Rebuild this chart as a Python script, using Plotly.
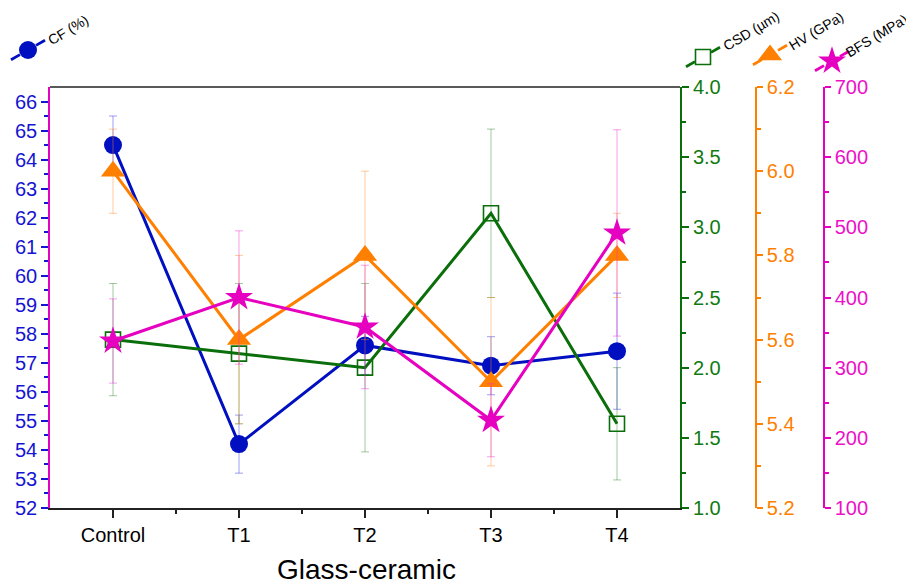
import plotly.graph_objects as go

categories = ["Control", "T1", "T2", "T3", "T4"]
cf = [64.5, 54.2, 57.6, 56.9, 57.4]
cf_err = [1.0, 1.0, 1.0, 1.0, 2.0]
csd = [2.2, 2.1, 2.0, 3.1, 1.6]
csd_err = [0.4, 0.5, 0.6, 0.6, 0.4]
hv = [6.0, 5.6, 5.8, 5.5, 5.8]
hv_err = [0.1, 0.2, 0.2, 0.2, 0.1]
bfs = [338, 400, 358, 225, 492]
bfs_err = [60, 95, 88, 52, 147]

names = ["CF (%)", "CSD (µm)", "HV (GPa)", "BFS (MPa)"]

BLUE = "#0010c0"
BLUE_T = "#1414d2"
GREEN = "#0a6e0a"
GREEN_T = "#107a10"
ORANGE = "#ff7f00"
MAGENTA = "#e600c0"
MAGENTA_T = "#ec10c8"

FONT = "Arial, Liberation Sans, Helvetica, sans-serif"
W, H = 914, 585
OFF = 8  # page body margin in the browser window
PL, PR, PT, PB = 50, 680, 87, 508   # plot area in window pixels


def px(xp, yp):
    """window pixel -> figure paper coordinates"""
    return (xp - OFF) / W, 1 - (yp - OFF) / H


xs = list(range(len(categories)))

fig = go.Figure()


def add_series(y, err, yaxis, color, errcolor, symbol, size, name, mline=0):
    fig.add_trace(go.Scatter(
        x=xs, y=y, yaxis=yaxis, name=name, mode="lines+markers",
        line=dict(color=color, width=3),
        marker=dict(symbol=symbol, size=size, color=color,
                    line=dict(color=color, width=mline)),
        error_y=dict(type="data", array=err, visible=True, color=errcolor,
                     thickness=1, width=4),
        cliponaxis=False, showlegend=False))


add_series(cf, cf_err, "y", BLUE, "rgba(40,40,230,0.45)", "circle", 18, names[0])
add_series(csd, csd_err, "y2", GREEN, "rgba(20,120,20,0.4)", "square-open", 15, names[1], mline=1.6)
add_series(hv, hv_err, "y3", ORANGE, "rgba(255,140,40,0.45)", "triangle-up", 21, names[2])
add_series(bfs, bfs_err, "y4", MAGENTA, "rgba(240,40,220,0.45)", "star", 21, names[3])

# legend glyphs drawn on a hidden full-figure overlay axis (window pixel units)
leg = [
    (28, 50, BLUE, "circle", 18, 0, names[0], (68, 30)),
    (703, 57, GREEN, "square-open", 15, 1.6, names[1], (751, 31)),
    (770, 55, ORANGE, "triangle-up", 21, 0, names[2], (816, 31)),
    (832, 61, MAGENTA, "star", 21, 0, names[3], (876, 36)),
]
for (mx, my, col, sym, sz, ml, nm, tc) in leg:
    for s in (-1, 1):
        x0, y0 = mx + s * 8, my - s * 4.6
        x1, y1 = mx + s * 17, my - s * 9.8
        a0 = px(x0, y0)
        a1 = px(x1, y1)
        fig.add_shape(type="line", xref="paper", yref="paper",
                      x0=a0[0], y0=a0[1], x1=a1[0], y1=a1[1],
                      line=dict(color=col, width=2.8))
    fig.add_trace(go.Scatter(x=[mx], y=[my], xaxis="x2", yaxis="y5", mode="markers",
                             marker=dict(symbol=sym, size=sz, color=col,
                                         line=dict(color=col, width=ml)),
                             showlegend=False, hoverinfo="skip"))
    tx, ty = px(*tc)
    fig.add_annotation(x=tx, y=ty, xref="paper", yref="paper", text=nm,
                       showarrow=False, textangle=-31, xanchor="center", yanchor="middle",
                       font=dict(family=FONT, size=14, color="black"))

# top border
a0 = px(PL, PT)
a1 = px(PR, PT)
fig.add_shape(type="line", xref="paper", yref="paper", x0=a0[0], y0=a0[1], x1=a1[0], y1=a1[1],
              line=dict(color="#222222", width=1.5))

# x-axis title
tx, ty = px(366, 569)
fig.add_annotation(x=tx, y=ty, xref="paper", yref="paper", text="Glass-ceramic",
                   showarrow=False, xanchor="center", yanchor="middle",
                   font=dict(family=FONT, size=28, color="black"))

tickfont = dict(family=FONT, size=20)
xl, yb = px(PL, PB)
xr, yt = px(PR, PT)
xdom = [xl, xr]
ydom = [yb, yt]

fig.update_layout(
    width=W, height=H,
    margin=dict(l=0, r=0, t=0, b=0),
    plot_bgcolor="rgba(0,0,0,0)", paper_bgcolor="white",
    font=dict(family=FONT),
    xaxis=dict(domain=xdom, range=[-0.5, 4.5], tickmode="array", automargin=False,
               tickvals=xs, ticktext=categories, showgrid=False, zeroline=False,
               showline=True, linecolor="#222222", linewidth=1.5,
               ticks="outside", ticklen=8, tickwidth=1.5, tickcolor="#222222",
               minor=dict(tickmode="array", tickvals=[0.5, 1.5, 2.5, 3.5],
                          ticks="outside", ticklen=4, tickwidth=1.5, tickcolor="#222222"),
               tickfont=dict(family=FONT, size=20, color="black")),
    yaxis=dict(domain=ydom, range=[52, 66.5], tickmode="array", tickvals=list(range(52, 67)),
               automargin=False,
               showgrid=False, zeroline=False, showline=True, linecolor=MAGENTA, linewidth=1.5,
               ticks="outside", ticklen=7, tickwidth=1.5, tickcolor=BLUE_T,
               minor=dict(tickmode="array", tickvals=[v + 0.5 for v in range(52, 66)],
                          ticks="outside", ticklen=4, tickwidth=1.5, tickcolor=BLUE_T),
               tickfont=dict(tickfont, color=BLUE_T)),
    yaxis2=dict(range=[1, 4], overlaying="y", side="right", anchor="x", automargin=False,
                dtick=0.5, tickformat=".1f", showgrid=False, zeroline=False,
                showline=True, linecolor=GREEN, linewidth=1.8,
                ticks="outside", ticklen=7, tickwidth=1.5, tickcolor=GREEN,
                minor=dict(dtick=0.25, ticks="outside", ticklen=4, tickwidth=1.5, tickcolor=GREEN),
                tickfont=dict(tickfont, color=GREEN_T)),
    yaxis3=dict(range=[5.2, 6.2], overlaying="y", side="right", anchor="free",
                position=px(756, 0)[0], dtick=0.2, tickformat=".1f", automargin=False,
                showgrid=False, zeroline=False,
                showline=True, linecolor=ORANGE, linewidth=1.5,
                ticks="outside", ticklen=6, tickwidth=1.5, tickcolor=ORANGE,
                minor=dict(dtick=0.1, ticks="outside", ticklen=4, tickwidth=1.5, tickcolor=ORANGE),
                tickfont=dict(tickfont, color=ORANGE)),
    yaxis4=dict(range=[100, 700], overlaying="y", side="right", anchor="free",
                position=px(824, 0)[0], dtick=100, automargin=False,
                showgrid=False, zeroline=False,
                showline=True, linecolor=MAGENTA, linewidth=1.5,
                ticks="outside", ticklen=6, tickwidth=1.5, tickcolor=MAGENTA,
                minor=dict(dtick=50, ticks="outside", ticklen=4, tickwidth=1.5, tickcolor=MAGENTA),
                tickfont=dict(tickfont, color=MAGENTA_T)),
    xaxis2=dict(domain=[0, 1], range=[OFF, W + OFF], visible=False, anchor="y5", automargin=False),
    yaxis5=dict(domain=[0, 1], range=[H + OFF, OFF], visible=False, anchor="x2", automargin=False),
)

fig.write_html("out.html")
